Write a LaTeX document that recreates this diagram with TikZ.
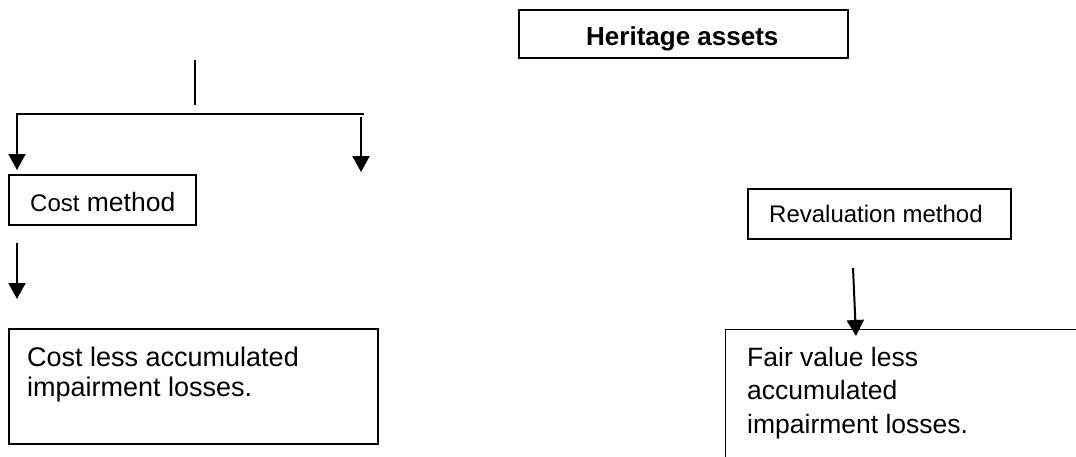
\documentclass[tikz,border=0pt]{standalone}
\usepackage{fontspec}
\setmainfont{Liberation Sans}
\usetikzlibrary{arrows.meta}
\tikzset{
  boxstyle/.style={draw=black, line width=1.4pt, rectangle, inner sep=0pt},
  txt/.style={inner sep=0pt, anchor=base west, font=\fontsize{26.5}{30}\selectfont},
  conn/.style={line width=2pt, line cap=rect},
  arr/.style={line width=2pt, -{Triangle[width=17pt,length=16pt]}}
}
\begin{document}
\begin{tikzpicture}[x=1pt,y=-1pt]
\useasboundingbox (0,0) rectangle (1076,456);
\clip (0,0) rectangle (1076,456);
% boxes
\node[boxstyle, minimum width=329pt, minimum height=48pt] (heritage) at (683.5,34) {};
\node[txt, font=\bfseries\fontsize{26}{30}\selectfont] (heritagetxt) at (586,45) {Heritage assets};
\node[boxstyle, minimum width=187pt, minimum height=50pt] (cost) at (102.5,200) {};
\node[txt] (costtxt) at (30,211) {{\fontsize{24}{28}\selectfont Cost} method};
\node[boxstyle, minimum width=263pt, minimum height=50pt] (reval) at (879.5,214) {};
\node[txt, font=\fontsize{24}{28}\selectfont] (revaltxt) at (769,222) {Revaluation method};
\node[boxstyle, minimum width=369pt, minimum height=115pt] (costres) at (193.5,386.5) {};
\node[txt, font=\fontsize{27}{30}\selectfont] (costres1) at (27,366) {Cost less accumulated};
\node[txt, font=\fontsize{27}{30}\selectfont] (costres2) at (27,396) {impairment losses.};
\node[boxstyle, minimum width=400pt, minimum height=180pt, anchor=north west] (fairres) at (725,329) {};
\node[txt] (fair1) at (747,366) {Fair value less};
\node[txt] (fair2) at (747,399) {accumulated};
\node[txt] (fair3) at (747,433) {impairment losses.};
% connector coordinates
\coordinate (stemtop) at (195,61);
\coordinate (stembot) at (195,104);
\coordinate (barL) at (17,114);
\coordinate (barR) at (363,114);
\coordinate (tipL) at (17,170);
\coordinate (rtop) at (361,117);
\coordinate (rtip) at (361,172);
\coordinate (c2top) at (17,243);
\coordinate (c2tip) at (17,299);
\coordinate (r2top) at (853,268);
\coordinate (r2tip) at (856,336);
% connectors
\draw[conn] (stemtop) -- (stembot);
\draw[conn] (barR) -- (barL);
\draw[arr] (barL) -- (tipL);
\draw[arr] (rtop) -- (rtip);
\draw[arr] (c2top) -- (c2tip);
\draw[arr] (r2top) -- (r2tip);
\end{tikzpicture}
\end{document}
